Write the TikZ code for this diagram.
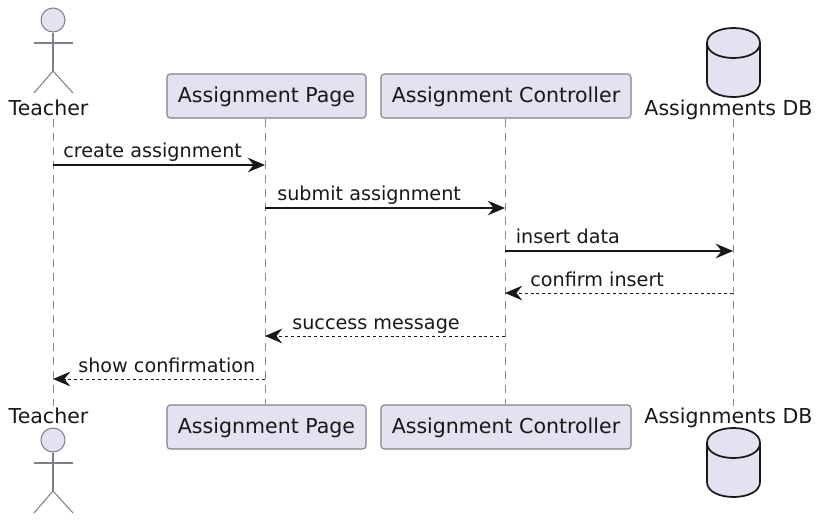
\documentclass[tikz,border=0pt]{standalone}
\usepackage{fontspec}
\setmainfont{DejaVu Sans}
\usetikzlibrary{arrows.meta, positioning}
\definecolor{partfill}{HTML}{E2E2F0}
\definecolor{partline}{HTML}{7F7F87}
\definecolor{lifeline}{HTML}{8A8A8A}
\definecolor{inkline}{HTML}{181818}
\tikzset{
  participant/.style = {draw = partline, fill = partfill, line width = 0.8pt, rounded corners = 2.5pt,
    minimum height = 33pt, inner sep = 0pt, text depth = 1.7pt, font = \fontsize{15.4}{18}\selectfont, text = inkline},
  actorlabel/.style = {font = \fontsize{15.4}{18}\selectfont, text = inkline, inner sep = 0pt, anchor = base},
  msglabel/.style = {font = \fontsize{14.4}{17}\selectfont, text = inkline, inner sep = 0pt, anchor = base west},
  lifelinestyle/.style = {-, draw = lifeline, line width = 0.7pt, dash pattern = on 6pt off 4.5pt},
  actorstyle/.style = {-, draw = partline, line width = 0.8pt},
  headstyle/.style = {draw = partline, fill = partfill, line width = 0.8pt},
  dbstyle/.style = {draw = inkline, fill = partfill, line width = 1.3pt},
  callarrow/.style = {-{Stealth[length = 13pt, width = 11pt, inset = 4.5pt]}, draw = inkline, line width = 0.8pt},
  replyarrow/.style = {callarrow, line width = 0.7pt, dash pattern = on 2.2pt off 2.2pt}
}
\begin{document}
\begin{tikzpicture}[x = 0.75pt, y = -0.75pt]
      \useasboundingbox (0, 0) rectangle (821, 522);

      % participants
      % ------------
      \node [participant, minimum width = 149.25pt] (pageTop) at (266.5, 96) {Assignment Page};
      \node [participant, minimum width = 187.5pt] (ctrlTop) at (506, 96) {Assignment Controller};
      \node [participant, minimum width = 149.25pt] (pageBot) at (266.5, 427) {Assignment Page};
      \node [participant, minimum width = 187.5pt] (ctrlBot) at (506, 427) {Assignment Controller};

      \node [actorlabel] (teacherTop) at (48.5, 115) {Teacher};
      \node [actorlabel] (teacherBot) at (48.5, 423) {Teacher};
      \node [actorlabel] (dbTop) at (728.5, 115) {Assignments DB};
      \node [actorlabel] (dbBot) at (728.5, 423) {Assignments DB};

      % lifelines
      % ---------
      \coordinate (teacherA) at (53, 119);
      \coordinate (teacherB) at (53, 406);
      \coordinate (dbA) at (733, 119);
      \coordinate (dbB) at (733, 406);

      \draw [lifelinestyle] (teacherA) -- (teacherB);
      \draw [lifelinestyle] (pageTop.south -| 265, 0) -- (pageBot.north -| 265, 0);
      \draw [lifelinestyle] (ctrlTop.south -| 505, 0) -- (ctrlBot.north -| 505, 0);
      \draw [lifelinestyle] (dbA) -- (dbB);

      % actors
      % ------
      \foreach \ay/\name in {20/actorTop, 440/actorBot} {
        \node [headstyle, circle, minimum size = 18pt, inner sep = 0pt] (\name) at (53, \ay) {};
        \draw [actorstyle] (\name.south) -- ++(0, 39);
        \draw [actorstyle] (34, \ay + 23) -- (73, \ay + 23);
        \draw [actorstyle]
          (34, \ay + 73) --
          (53, \ay + 51) --
          (73, \ay + 73)
        ;
      }

      % databases
      % ---------
      \foreach \dy in {28, 428} {
        \draw [dbstyle]
          (707, \dy + 15) .. controls (707, \dy - 5) and (760, \dy - 5) .. (760, \dy + 15) --
          (760, \dy + 54) .. controls (760, \dy + 74) and (707, \dy + 74) .. (707, \dy + 54) --
          cycle
        ;
        \draw [dbstyle, fill = none]
          (707, \dy + 15) .. controls (707, \dy + 35) and (760, \dy + 35) .. (760, \dy + 15)
        ;
      }

      % messages
      % --------
      \coordinate (m1a) at (53, 165);
      \coordinate (m1b) at (265, 165);
      \coordinate (m2a) at (265, 208);
      \coordinate (m2b) at (505, 208);
      \coordinate (m3a) at (505, 251);
      \coordinate (m3b) at (733, 251);
      \coordinate (m4a) at (733, 293);
      \coordinate (m4b) at (505, 293);
      \coordinate (m5a) at (505, 336);
      \coordinate (m5b) at (265, 336);
      \coordinate (m6a) at (265, 379);
      \coordinate (m6b) at (53, 379);

      \draw [callarrow] (m1a) -- (m1b);
      \draw [callarrow] (m2a) -- (m2b);
      \draw [callarrow] (m3a) -- (m3b);
      \draw [replyarrow] (m4a) -- (m4b);
      \draw [replyarrow] (m5a) -- (m5b);
      \draw [replyarrow] (m6a) -- (m6b);

      \node [msglabel] (l1) at (63, 157) {create assignment};
      \node [msglabel] (l2) at (277, 200) {submit assignment};
      \node [msglabel] (l3) at (515.5, 243) {insert data};
      \node [msglabel] (l4) at (530, 286) {confirm insert};
      \node [msglabel] (l5) at (292, 329) {success message};
      \node [msglabel] (l6) at (78, 372) {show confirmation};
    \end{tikzpicture}
\end{document}
